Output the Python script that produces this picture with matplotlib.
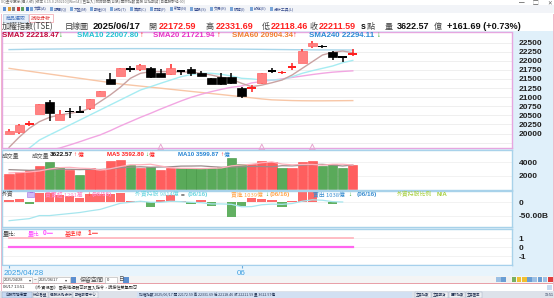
import matplotlib
matplotlib.use('Agg')
import matplotlib.pyplot as plt
from matplotlib.patches import Rectangle
from matplotlib.transforms import ScaledTranslation

W, H = 554, 298
CJK = ['Noto Sans CJK TC', 'DejaVu Sans']
plt.rcParams['font.family'] = ['Liberation Sans', 'Noto Sans CJK TC', 'DejaVu Sans']

# ---- data ----
date_labels = ['2025/04/28', '04/29', '04/30', '05/02', '05/05', '05/06', '05/07', '05/08', '05/09',
               '05/12', '05/13', '05/14', '05/15', '05/16', '05/19', '05/20', '05/21', '05/22',
               '05/23', '05/26', '05/27', '05/28', '05/29', '06/02', '06/03', '06/04', '06/05',
               '06/06', '06/09', '06/10', '06/11', '06/12', '06/13', '06/16', '06/17']
axis_ticks = [0, 23]
axis_tick_labels = ['2025/04/28', '06']

opens = [20000, 20033, 20240, 20544, 20857, 20370, 20610, 20595, 20692, 21030, 21497, 21580,
         21780, 21764, 21808, 21654, 21626, 21740, 21772, 21654, 21517, 21560, 21544, 21258,
         21230, 21380, 21720, 21654, 21820, 21945, 22412, 22390, 22248, 22100, 22172.59]
highs = [20115, 20250, 20345, 20810, 20920, 20645, 20692, 20764, 20950, 21180, 21654, 21800,
         21855, 21900, 21820, 21764, 21910, 21745, 21818, 21726, 21520, 21654, 21650, 21265,
         21332, 21660, 21790, 21730, 21927, 22313, 22530, 22431, 22260, 22130, 22331.69]
lows = [19990, 20000, 20206, 20540, 20345, 20360, 20434, 20585, 20645, 21020, 21350, 21570,
        21698, 21726, 21517, 21555, 21620, 21607, 21580, 21575, 21350, 21332, 21370, 20967,
        21132, 21370, 21654, 21630, 21745, 21940, 22340, 22340, 22020, 21973, 22118.46]
closes = [20069, 20233, 20275, 20803, 20555, 20536, 20600, 20590, 20940, 21168, 21360, 21791,
          21772, 21882, 21560, 21565, 21808, 21705, 21670, 21585, 21360, 21355, 21380, 21030,
          21258, 21654, 21712, 21698, 21836, 22275, 22495, 22385, 22110, 22093, 22211.59]

sma5 = [19620, 19900, 20143, 20325, 20445, 20508, 20555, 20600, 20692, 20874, 21058, 21270,
        21517, 21654, 21700, 21700, 21700, 21690, 21690, 21654, 21607, 21544, 21490, 21380,
        21286, 21330, 21395, 21470, 21607, 21790, 21973, 22157, 22230, 22266, 22218.47]
sma10 = [19350, 19480, 19600, 19820, 19960, 20096, 20233, 20370, 20508, 20645, 20783, 20920,
         21058, 21195, 21286, 21380, 21470, 21560, 21620, 21654, 21654, 21626, 21580, 21517,
         21500, 21470, 21470, 21480, 21560, 21654, 21726, 21790, 21855, 21945, 22007.80]
sma20 = [19300, 19360, 19420, 19480, 19540, 19600, 19685, 19775, 19870, 19960, 20077, 20206,
         20325, 20445, 20555, 20673, 20783, 20893, 20994, 21077, 21150, 21214, 21270, 21305,
         21390, 21430, 21465, 21500, 21540, 21580, 21620, 21655, 21685, 21705, 21721.94]
sma60 = [21790, 21750, 21711, 21672, 21633, 21594, 21555, 21516, 21477, 21438, 21399, 21360,
         21331, 21302, 21273, 21244, 21215, 21186, 21157, 21128, 21099, 21070, 21040, 21011,
         20980, 20950, 20925, 20915, 20905, 20900, 20898, 20898, 20900, 20902, 20904.34]
sma240 = [22305, 22310, 22315, 22318, 22320, 22322, 22324, 22326, 22328, 22329, 22330, 22331,
          22332, 22332, 22332, 22331, 22330, 22329, 22328, 22326, 22324, 22322, 22320, 22318,
          22315, 22312, 22309, 22306, 22303, 22301, 22299, 22297, 22296, 22295, 22294.11]
signal_idx = [15, 25, 30]

volume = [2250, 2550, 2800, 3400, 4000, 3250, 2800, 2150, 3150, 2900, 4150, 4400, 3550, 3150,
          3300, 2800, 3150, 3100, 3100, 3100, 3100, 3350, 4700, 3700, 3700, 4200, 4000, 3100,
          3100, 4000, 4200, 3500, 3750, 3100, 3622.57]
volume_up = [1, 1, 1, 1, 0, 0, 1, 0, 1, 1, 1, 1, 0, 1, 0, 1, 1, 0, 0, 0, 0, 0, 0, 0, 1, 1, 1,
             0, 1, 1, 1, 0, 0, 0, 1]
vol_ma5 = [2400, 2450, 2550, 2700, 3000, 3200, 3250, 3120, 3070, 2850, 3030, 3350, 3630, 3630,
           3710, 3440, 3190, 3100, 3090, 3050, 3110, 3150, 3470, 3590, 3710, 3930, 4060, 3740,
           3620, 3680, 3680, 3580, 3710, 3710, 3592.80]
vol_ma10 = [2900, 2850, 2800, 2850, 2900, 2950, 2950, 2900, 2950, 2920, 3010, 3190, 3270, 3330,
            3260, 3300, 3330, 3430, 3440, 3460, 3350, 3260, 3300, 3330, 3380, 3370, 3330, 3490,
            3460, 3560, 3670, 3690, 3590, 3440, 3599.87]

# foreign investors, net buy (billion NTD) and holdings (億), data up to 06/16
foreign_net = [7, 11, -5, 33, 33, 27, 23, 15, 31, 31, 31, 36, 5, 5, -16, 8, 27, 4, -8, 7, -14,
               2, -56, -15, 16, 12, 10, -18, 5, 43, 43, 3, -6, 0.13]
foreign_hold = [8900, 8950, 9000, 9150, 9150, 9200, 9250, 9300, 9380, 9450, 9600, 9750, 9800,
                9850, 9800, 9800, 9850, 9830, 9800, 9780, 9720, 9720, 9700, 9580, 9590, 9680,
                9710, 9700, 9740, 9850, 9920, 9900, 9830, 9814]

vol_ratio = [0] * len(date_labels)
base_line = [1] * len(date_labels)

RED, GREEN = '#ff2020', '#1e9e1e'

fig = plt.figure(figsize=(W / 100, H / 100), dpi=100)
fig.patch.set_facecolor('white')


def rect(x0, y0, x1, y1, fc, ec='none', lw=0, z=-5):
    fig.add_artist(Rectangle((x0 / W, 1 - y1 / H), (x1 - x0) / W, (y1 - y0) / H,
                             transform=fig.transFigure, facecolor=fc, edgecolor=ec,
                             linewidth=lw, zorder=z))


def put(x, y, s, color='#404040', size=5, bold=False, fam=None, ha='left'):
    kw = dict(color=color, fontsize=size, ha=ha, va='center',
              fontweight='bold' if bold else 'normal')
    if fam:
        kw['family'] = fam
    fig.text(x / W, 1 - y / H, s, **kw)


def right_labels(ax):
    ax.yaxis.tick_right()
    ax.tick_params(left=False, bottom=False, right=False, labelbottom=False,
                   labelleft=False, labelright=True, pad=1.2, labelsize=6,
                   labelcolor='#202020')


def pane(x0, y0, x1, y1, edge, ylim):
    ax = fig.add_axes([x0 / W, 1 - y1 / H, (x1 - x0) / W, (y1 - y0) / H])
    ax.set_facecolor('white')
    for s in ax.spines.values():
        s.set_color(edge)
        s.set_linewidth(1.0)
    right_labels(ax)
    ax.set_xlim(-0.7, 49.75)
    ax.set_ylim(*ylim)
    return ax


def bold_ticks(ax, ticks, labels):
    ax.set_yticks(ticks)
    ax.set_yticklabels(labels, fontweight='bold')


# ---- backgrounds / chrome ----
rect(2, 31, 553, 276, '#e0f0fa')
rect(0, 5, 554, 13, '#f2f4f8')
rect(0, 13, 554, 21.5, '#ffffff')
rect(2, 276, 553, 283.5, '#f4f4f4')
rect(0, 283.5, 554, 291, '#ffffff')
rect(0, 291, 554, 298, '#dde2ea')
rect(0, 283, 554, 283.8, '#e8a0a8', z=-4)
rect(0.5, 14, 1.6, 291, '#f2b8c8', z=-4)
rect(552.5, 14, 553.6, 291, '#f2b8c8', z=-4)

put(1, 2.4, 'XQ全球贏家(個人版) [版本 6.15.0.250210][Win64] [已登入] 即時報價(台股) 國際指數 美股 台指期貨 [自選股群組-00]',
    '#707070', 2.6, fam=CJK)
put(519, 3.5, '─', '#606060', 4, fam=CJK)
put(533, 3.5, '▢', '#606060', 4, fam=CJK)
put(547, 3.5, '✕', '#606060', 4)

tool_items = ['文章(A)', '報價(Q)', '大盤(M)', '期權(O)', '技術(T)', '籌碼(C)', '財務(F)',
              '新聞(N)', '選股(S)', '交易(R)', '帳務(I)', '設定(E)', '分析工具(L)']
tx = 30
for lab in tool_items:
    rect(tx, 7, tx + 3, 10.5, '#7aa6d8', z=-3)
    put(tx + 4, 8.8, lab, '#3a4f90', 2.8, fam=CJK)
    tx += 20 if len(lab) < 6 else 26
for k, c in enumerate(['#5b8fd0', '#e0a030', '#808080', '#d04040', '#60a060', '#4070c0']):
    rect(3 + k * 4.5, 7, 6 + k * 4.5, 10.5, c, z=-3)

rect(3, 14.5, 28, 21.5, '#e6eef8', '#b8cce0', 0.5, z=-3)
rect(29, 14.5, 53, 21.5, '#ffffff', '#f0a0a8', 0.5, z=-3)
put(15.5, 18, '商品選取', '#4a78c0', 3.6, fam=CJK, ha='center')
put(41, 18, '技術分析', '#e03030', 3.6, fam=CJK, ha='center')

# ---- header row ----
hy = 26.3
put(2, hy, '加權指數(TSE)', '#404040', 5.8, fam=CJK)
put(65, hy, '日線圖', '#404040', 5.8, fam=CJK)
put(93, hy, '2025/06/17', '#101010', 6.8, bold=True)
put(148, hy, '開', '#404040', 5.8, fam=CJK)
put(159, hy, '22172.59', RED, 6.5, bold=True)
put(205, hy, '高', '#404040', 5.8, fam=CJK)
put(216, hy, '22331.69', RED, 6.5, bold=True)
put(262, hy, '低', '#404040', 5.8, fam=CJK)
put(270.5, hy, '22118.46', RED, 6.5, bold=True)
put(309, hy, '收', '#404040', 5.8, fam=CJK)
put(319, hy, '22211.59', RED, 6.5, bold=True)
put(361, hy, 's', '#101010', 6.3, bold=True)
put(366.5, hy, '點', '#404040', 5.8, fam=CJK)
put(385, hy, '量', '#404040', 5.8, fam=CJK)
put(396.5, hy, '3622.57', '#101010', 6.5, bold=True)
put(434, hy, '億', '#404040', 5.8, fam=CJK)
put(447, hy, '+161.69 (+0.73%)', '#101010', 6.6, bold=True)

# ---- main price pane ----
ax = pane(2, 32.5, 512, 148, '#e6a6e0', (19602, 22775))
price_ticks = [20000, 20250, 20500, 20750, 21000, 21250, 21500, 21750, 22000, 22250, 22500]
bold_ticks(ax, price_ticks, [str(t) for t in price_ticks])
for g in [19750] + price_ticks:
    ax.axhline(g, color='#ededed', lw=0.6, zorder=0)
xs = list(range(len(date_labels)))
ax.plot(xs, sma240, color='#a8d6ea', lw=1, zorder=1)
ax.plot(xs, sma60, color='#f8c6a6', lw=1, zorder=1)
ax.plot(xs, sma20, color='#f2a6e2', lw=1, zorder=1)
ax.plot(xs, sma10, color='#a6ecf2', lw=1, zorder=1)
ax.plot(xs, sma5, color='#c9a2a2', lw=1, zorder=1)
for i in xs:
    o, h, l, c = opens[i], highs[i], lows[i], closes[i]
    up = c >= o
    wick = '#ff2020' if up else '#000000'
    ax.vlines(i, l, h, color=wick, lw=1.1, zorder=2)
    body = max(abs(c - o), 45)
    mid = (o + c) / 2
    if abs(c - o) < 45:
        ax.bar(i, body, bottom=mid - body / 2, width=0.85,
               color='#ff2020' if up else '#000000', lw=0, zorder=3)
    else:
        ax.bar(i, body, bottom=min(o, c), width=0.88,
               color='#ff8282' if up else '#000000',
               edgecolor='#ff6464' if up else '#000000', lw=0.5, zorder=3)
ax.scatter(signal_idx, [19602 + 30] * len(signal_idx), marker='^', s=16,
           facecolors='none', edgecolors='#e8a6d0', lw=0.7, zorder=4, clip_on=False)

ly = 35.2
put(2, ly, 'SMA5 22218.47', '#c0083c', 5.7, bold=True)
put(59, ly, '↓', GREEN, 5.5, bold=True)
put(77, ly, 'SMA10 22007.80', '#22c2d2', 5.7, bold=True)
put(140, ly, '↑', RED, 5.5, bold=True)
put(153, ly, 'SMA20 21721.94', '#e632c6', 5.7, bold=True)
put(217, ly, '↑', RED, 5.5, bold=True)
put(232, ly, 'SMA60 20904.34', '#f07e2e', 5.7, bold=True)
put(293, ly, '↑', RED, 5.5, bold=True)
put(309, ly, 'SMA240 22294.11', '#2a8ad4', 5.7, bold=True)
put(377, ly, '↓', GREEN, 5.5, bold=True)

# ---- volume pane ----
av = pane(2, 150, 512, 190, '#a8d2ea', (-150, 5843))
bold_ticks(av, [2000, 4000], ['2000', '4000'])
for g in [2000, 4000]:
    av.axhline(g, color='#f0f0f0', lw=0.6, zorder=0)
av.bar(xs, volume, width=0.92,
       color=['#ff5e5e' if u else '#5aaa5a' for u in volume_up],
       edgecolor=['#ff4848' if u else '#3f933f' for u in volume_up], lw=0.4, zorder=2)
av.plot(xs, vol_ma10, color='#9c8c8c', lw=0.9, zorder=3)
av.plot(xs, vol_ma5, color='#ffb0bc', lw=0.9, zorder=3)

vy = 155
put(2, vy, '成交量', '#505050', 4.2, fam=CJK)
put(32, vy, '成交量', '#505050', 4.2, fam=CJK)
put(50, vy, '3622.57', '#101010', 4.6, bold=True)
put(73.5, vy, '↑', RED, 4.5, bold=True)
put(77.5, vy, '億', RED, 4.2, fam=CJK)
put(107, vy, 'MA5 3592.80', RED, 4.4, bold=True)
put(145, vy, '↓', GREEN, 4.5, bold=True)
put(149, vy, '億', RED, 4.2, fam=CJK)
put(178, vy, 'MA10 3599.87', '#2282d2', 4.4, bold=True)
put(220, vy, '↑', RED, 4.5, bold=True)
put(224, vy, '億', '#2282d2', 4.2, fam=CJK)

# ---- foreign investor pane ----
af = pane(2, 190.5, 512, 227, '#a8d2ea', (-92, 44))
for g in [0, -50]:
    af.axhline(g, color='#f0f0f0', lw=0.6, zorder=0)
fx = xs[:len(foreign_net)]
af.bar(fx, foreign_net, width=0.92,
       color=['#ff6a6a' if v >= 0 else '#62b062' for v in foreign_net], lw=0, zorder=2)
ah = af.twinx()
ah.set_ylim(8592, 10376)
ah.axis('off')
ah.plot(fx, foreign_hold, color='#a6e6ee', lw=0.9, zorder=3)
right_labels(af)
bold_ticks(af, [0, -50], ['0', '-50.00B'])

fy = 194.3
put(2, fy, '外資', '#505050', 4.2, fam=CJK)
rect(27, 191.6, 33.5, 197, '#d2b8f4', '#a070e0', 0.4, z=5)
put(30.2, fy, '日', '#7a3cc8', 3.4, fam=CJK, ha='center')
put(45, fy, '買賣超 1291萬', '#ff86c6', 4.2, fam=CJK)
put(87.5, fy, '↑', RED, 4.5, bold=True)
put(92, fy, '(06/16)', '#ff86c6', 4.6, bold=True)
put(135, fy, '外資持股 9814億', '#6cd6e0', 4.2, fam=CJK)
put(181, fy, '=', '#404040', 4.6, bold=True)
put(188, fy, '(06/16)', '#6cd6e0', 4.6, bold=True)
put(231, fy, '買進 1039億', '#ffa64c', 4.2, fam=CJK)
put(265, fy, '↓', GREEN, 4.5, bold=True)
put(270, fy, '(06/16)', '#ffa64c', 4.6, bold=True)
put(313, fy, '賣出 1038億', '#3a8ed0', 4.2, fam=CJK)
put(348, fy, '↓', GREEN, 4.5, bold=True)
put(357, fy, '(06/16)', '#3a8ed0', 4.6, bold=True)
put(397, fy, '外資持股比例', '#a8d040', 4.2, fam=CJK)
put(437, fy, 'N/A', '#a8d040', 4.6, bold=True)

# ---- volume ratio pane ----
ar = pane(2, 229, 512, 265, '#a8d2ea', (-2.0, 2.05))
bold_ticks(ar, [1, 0, -1], ['1', '0', '-1'])
for g in [1, 0, -1]:
    ar.axhline(g, color='#f0f0f0', lw=0.6, zorder=0)
ar.plot(xs, base_line, color='#ffb8c0', lw=1.3, zorder=2)
ar.plot(xs, vol_ratio, color='#ff66f0', lw=1.6, zorder=2)

ry = 233.3
put(3, ry, '量比:', '#404040', 4.2, fam=CJK)
put(28, ry, '量比', '#ff44ff', 4.2, fam=CJK)
put(43, ry, '0', '#ff44ff', 4.8, bold=True)
put(47, ry, '═', '#ff44ff', 4.2, fam=CJK)
put(65, ry, '基準線', '#ff3030', 4.2, fam=CJK)
put(88, ry, '1', '#ff3030', 4.8, bold=True)
put(92, ry, '═', '#ff3030', 4.2, fam=CJK)

# ---- date axis ----
ad = fig.add_axes([2 / W, 1 - 276 / H, 510 / W, 11 / H])
ad.set_facecolor('#e8f4fc')
for s in ad.spines.values():
    s.set_visible(False)
ad.spines['top'].set_visible(True)
ad.spines['top'].set_color('#a6d0ec')
ad.set_xlim(-0.7, 49.75)
ad.set_yticks([])
ad.set_xticks(axis_ticks)
ad.set_xticklabels(axis_tick_labels)
ad.xaxis.tick_top()
ad.tick_params(axis='x', direction='in', length=2.5, color='#6aaee0', pad=-8.5,
               labelsize=5.8, labelcolor='#3c9ee0')
first = ad.get_xticklabels()[0]
first.set_horizontalalignment('left')
first.set_transform(first.get_transform() + ScaledTranslation(-5 / 100, 0, fig.dpi_scale_trans))

# ---- bottom controls / status ----
rect(2.5, 277, 32, 282.5, '#ffffff', '#b0b0b0', 0.4, z=-3)
put(3.5, 279.8, '2025/04/28', '#303030', 2.8)
put(28.5, 279.8, '▾', '#404040', 3)
put(34, 279.8, '~', '#404040', 3.5)
rect(38, 277, 70, 282.5, '#ffffff', '#b0b0b0', 0.4, z=-3)
put(39, 279.8, '2025/06/17', '#303030', 2.8)
put(65, 279.8, '▾', '#404040', 3)
rect(71, 277, 76, 282.5, '#5c8fd0', z=-3)
put(80, 279.8, '保留空間', '#505050', 4.3, fam=CJK)
rect(105, 277, 117, 282.5, '#ffffff', '#b0b0b0', 0.4, z=-3)
put(107, 279.8, '0', '#303030', 3)
put(118.5, 279.8, '日', '#505050', 4, fam=CJK)
rect(123, 277, 129, 282.5, '#5c8fd0', z=-3)
for k, c in enumerate(['#9cc0e4', '#6a9ed4', '#f0f0f0', '#78b060', '#f0c030', '#f0c030',
                       '#6a9ed4', '#9cc0e4', '#6a9ed4', '#9cc0e4', '#e03c3c']):
    rect(496 + k * 5.2, 277.3, 500.5 + k * 5.2, 282.3, c, z=-3)

put(3, 287.2, '06/17 13:51', '#303030', 3)
put(33, 287.2, '《外資視圖》 圖表編輯器可設置入指令，請按住雙擊即可', '#303030', 3, fam=CJK)
rect(547, 284.5, 552, 290, '#c8daf0', z=-3)

tabs = [('台股市場總覽', 2, 32, '#c6d8f2'), ('綜合看盤', 33, 48, '#eef0f4'),
        ('個股技術分析', 49, 72, '#eef0f4'), ('期權報價中心', 73, 98, '#eef0f4')]
for lab, a, b, c in tabs:
    rect(a, 292, b, 297.5, c, '#9aa8bc', 0.3, z=-3)
    put((a + b) / 2, 294.8, lab, '#203050', 2.6, fam=CJK, ha='center')
rect(137, 292, 412, 297.5, '#d2e0f2', z=-3)
put(139, 294.8, '加權指數 2025/06/17 開 22172.59 高 22331.69 低 22118.46 收 22211.59 量 3622.57億',
    '#203050', 2.6, fam=CJK)
for k, lab in enumerate(['主要指數', '主要期貨', '國際指數', '主要匯率']):
    rect(415 + k * 17, 292, 431 + k * 17, 297.5, '#eef0f4', '#9aa8bc', 0.3, z=-3)
    put(423 + k * 17, 294.8, lab, '#203050', 2.4, fam=CJK, ha='center')
put(545, 294.8, '13:51', '#203050', 2.6)

fig.savefig('out.png', dpi=100)
